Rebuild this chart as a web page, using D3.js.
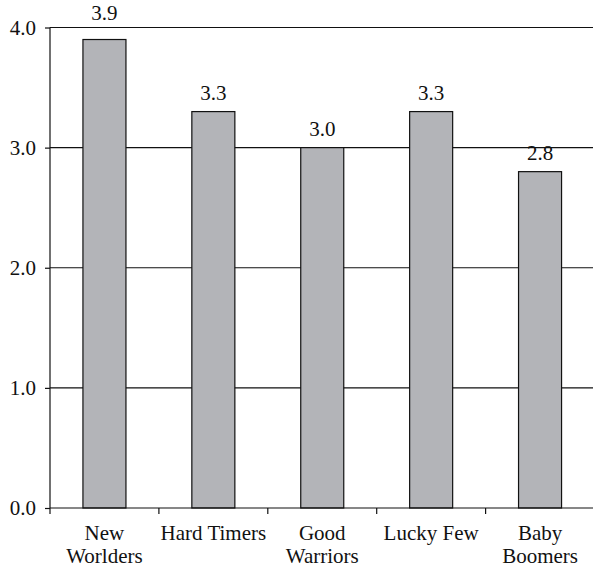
<!DOCTYPE html>
<html>
<head>
<meta charset="utf-8">
<script src="https://cdn.jsdelivr.net/npm/d3@7"></script>
<style>
  html, body { margin: 0; padding: 0; background: #fff; }
  svg { display: block; }
</style>
</head>
<body>
<svg id="chart" width="593" height="568"></svg>
<script>
// Generation means (scale 0–4)
const categories = [["New", "Worlders"], ["Hard Timers"], ["Good", "Warriors"], ["Lucky Few"], ["Baby", "Boomers"]];
const values = [3.9, 3.3, 3.0, 3.3, 2.8];
const yTicks = [0, 1, 2, 3, 4];
const yTickLabels = ["0.0", "1.0", "2.0", "3.0", "4.0"];

const FONT = "Liberation Serif";
const svg = d3.select("#chart");
const plotLeft = 50, plotRight = 594.5, plotTop = 27.5, plotBottom = 508;

const keys = categories.map((c, i) => i);
const x = d3.scaleBand().domain(keys).range([plotLeft, plotRight]).padding(0);
const y = d3.scaleLinear().domain([0, 4]).range([plotBottom, plotTop]);
const barW = x.bandwidth() * 0.395;

// horizontal gridlines
svg.append("g")
  .selectAll("line")
  .data(yTicks.filter(t => t > 0))
  .join("line")
  .attr("x1", plotLeft).attr("x2", plotRight)
  .attr("y1", d => y(d)).attr("y2", d => y(d))
  .attr("stroke", "#111").attr("stroke-width", 1.2);

// bars
svg.append("g")
  .selectAll("rect")
  .data(values)
  .join("rect")
  .attr("x", (d, i) => x(i) + (x.bandwidth() - barW) / 2)
  .attr("y", d => y(d))
  .attr("width", barW)
  .attr("height", d => y(0) - y(d))
  .attr("fill", "#b3b4b8")
  .attr("stroke", "#111")
  .attr("stroke-width", 1.2);

// value labels (lifted clear of the top gridline when they would sit on it)
const labelY = d => {
  const yy = y(d) - 12;
  return Math.abs(yy - y(4)) < 9 ? y(4) - 8 : yy;
};
svg.append("g")
  .selectAll("text")
  .data(values)
  .join("text")
  .attr("x", (d, i) => x(i) + x.bandwidth() / 2)
  .attr("y", labelY)
  .attr("text-anchor", "middle")
  .attr("font-family", FONT)
  .attr("font-size", 21)
  .attr("fill", "#111")
  .text(d => d.toFixed(1));

// y axis
const yAxis = d3.axisLeft(y)
  .tickValues(yTicks)
  .tickFormat((d, i) => yTickLabels[i])
  .tickSize(5)
  .tickPadding(9);
const gy = svg.append("g").attr("transform", `translate(${plotLeft},0)`).call(yAxis);
gy.attr("font-family", FONT).attr("font-size", 21);
gy.select(".domain").attr("d", `M0,${plotTop}V${plotBottom + 6}`).attr("stroke", "#111").attr("stroke-width", 1.2);
gy.selectAll(".tick line").attr("stroke", "#111").attr("stroke-width", 1.2);
gy.selectAll(".tick text").attr("fill", "#111").attr("font-family", FONT);

// x axis: baseline plus ticks between categories
const gx = svg.append("g");
gx.append("line")
  .attr("x1", plotLeft).attr("x2", plotRight)
  .attr("y1", plotBottom).attr("y2", plotBottom)
  .attr("stroke", "#111").attr("stroke-width", 1.2);
gx.selectAll("line.sep")
  .data(keys.slice(1))
  .join("line")
  .attr("class", "sep")
  .attr("x1", d => x(d)).attr("x2", d => x(d))
  .attr("y1", plotBottom).attr("y2", plotBottom + 6)
  .attr("stroke", "#111").attr("stroke-width", 1.2);

// category labels
const lbl = gx.selectAll("text.cat")
  .data(categories)
  .join("text")
  .attr("class", "cat")
  .attr("x", (d, i) => x(i) + x.bandwidth() / 2)
  .attr("y", 540)
  .attr("text-anchor", "middle")
  .attr("font-family", FONT)
  .attr("font-size", 21)
  .attr("fill", "#111");
lbl.selectAll("tspan")
  .data(d => d)
  .join("tspan")
  .attr("x", function () { return this.parentNode.getAttribute("x"); })
  .attr("dy", (d, i) => i === 0 ? 0 : 23)
  .text(d => d);
</script>
</body>
</html>
